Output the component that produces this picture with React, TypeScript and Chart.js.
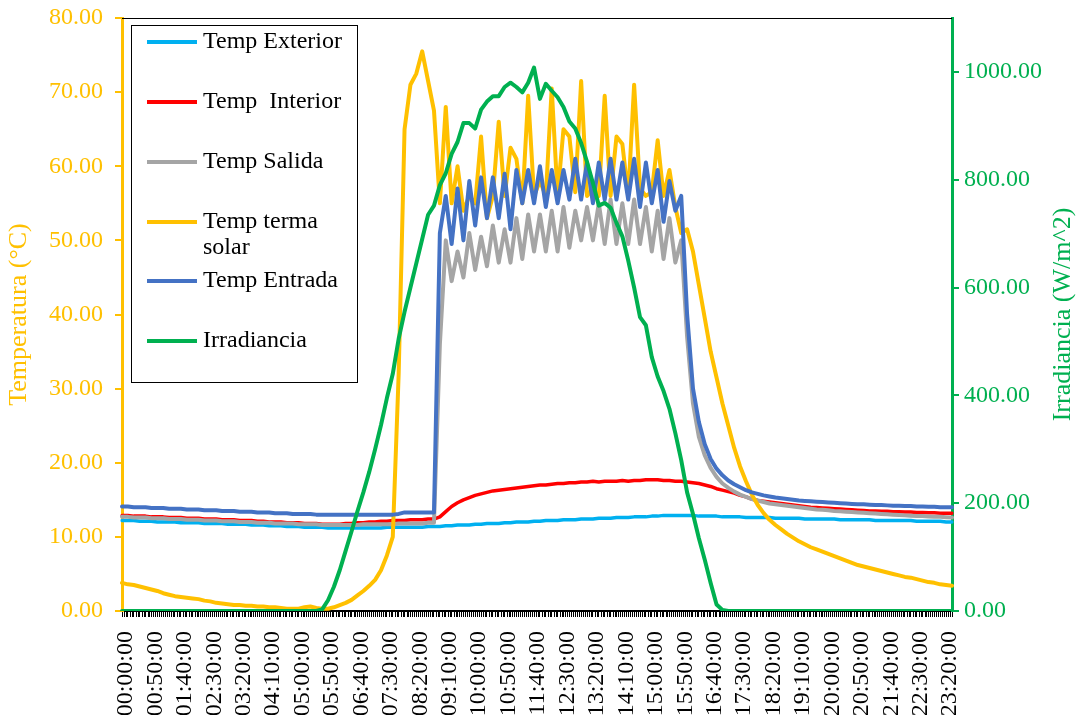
import React, { useEffect, useRef } from 'react';
import { Chart, registerables } from 'chart.js';

Chart.register(...registerables);

// 10-minute samples from 00:00:00 to 23:30:00
const POINTS = 142;
const pad2 = (n: number) => (n < 10 ? '0' + n : String(n));
const timeLabels: string[] = Array.from({ length: POINTS }, (_, i) => {
  const m = i * 10;
  return `${pad2(Math.floor(m / 60))}:${pad2(m % 60)}:00`;
});
const LABEL_EVERY = 5;

const tempExterior: number[] = [
  12.2, 12.2, 12.2, 12.1, 12.1, 12.1, 12.0, 12.0, 12.0, 12.0, 11.9, 11.9,
  11.9, 11.9, 11.8, 11.8, 11.8, 11.8, 11.7, 11.7, 11.7, 11.7, 11.6, 11.6,
  11.6, 11.5, 11.5, 11.5, 11.4, 11.4, 11.4, 11.3, 11.3, 11.3, 11.3, 11.2,
  11.2, 11.2, 11.2, 11.2, 11.2, 11.2, 11.2, 11.2, 11.2, 11.3, 11.3, 11.3,
  11.3, 11.3, 11.3, 11.3, 11.4, 11.4, 11.4, 11.5, 11.5, 11.6, 11.6, 11.6,
  11.7, 11.7, 11.8, 11.8, 11.8, 11.9, 11.9, 12.0, 12.0, 12.0, 12.1, 12.1,
  12.2, 12.2, 12.2, 12.3, 12.3, 12.3, 12.4, 12.4, 12.4, 12.5, 12.5, 12.5,
  12.6, 12.6, 12.6, 12.7, 12.7, 12.7, 12.8, 12.8, 12.9, 12.9, 12.9, 12.9,
  12.9, 12.9, 12.8, 12.8, 12.8, 12.8, 12.7, 12.7, 12.7, 12.7, 12.6, 12.6,
  12.6, 12.6, 12.6, 12.5, 12.5, 12.5, 12.5, 12.5, 12.4, 12.4, 12.4, 12.4,
  12.4, 12.4, 12.3, 12.3, 12.3, 12.3, 12.3, 12.3, 12.2, 12.2, 12.2, 12.2,
  12.2, 12.2, 12.2, 12.1, 12.1, 12.1, 12.1, 12.1, 12.0, 12.0,
];

const tempInterior: number[] = [
  12.9, 12.9, 12.8, 12.8, 12.8, 12.7, 12.7, 12.7, 12.6, 12.6, 12.6, 12.5,
  12.5, 12.5, 12.4, 12.4, 12.4, 12.3, 12.3, 12.3, 12.2, 12.2, 12.2, 12.1,
  12.1, 12.0, 12.0, 12.0, 11.9, 11.9, 11.9, 11.8, 11.8, 11.8, 11.7, 11.7,
  11.7, 11.7, 11.8, 11.8, 11.9, 11.9, 12.0, 12.0, 12.1, 12.1, 12.2, 12.2,
  12.2, 12.3, 12.3, 12.3, 12.4, 12.4, 12.7, 13.4, 14.1, 14.6, 15.0, 15.3,
  15.6, 15.8, 16.0, 16.2, 16.3, 16.4, 16.5, 16.6, 16.7, 16.8, 16.9, 17.0,
  17.0, 17.1, 17.2, 17.2, 17.3, 17.3, 17.4, 17.4, 17.5, 17.4, 17.5, 17.5,
  17.5, 17.6, 17.5, 17.6, 17.6, 17.7, 17.7, 17.7, 17.6, 17.6, 17.5, 17.5,
  17.4, 17.3, 17.2, 17.0, 16.8, 16.5, 16.3, 16.1, 15.9, 15.6, 15.4, 15.1,
  14.9, 14.8, 14.7, 14.6, 14.5, 14.4, 14.3, 14.2, 14.1, 14.0, 13.95, 13.9,
  13.85, 13.8, 13.75, 13.7, 13.65, 13.6, 13.55, 13.5, 13.5, 13.45, 13.45, 13.4,
  13.4, 13.35, 13.35, 13.3, 13.3, 13.25, 13.25, 13.2, 13.2, 13.2,
];

const tempSalida: number[] = [
  12.7, 12.7, 12.6, 12.6, 12.6, 12.5, 12.5, 12.5, 12.4, 12.4, 12.4, 12.3,
  12.3, 12.3, 12.2, 12.2, 12.2, 12.1, 12.1, 12.1, 12.0, 12.0, 12.0, 11.9,
  11.9, 11.9, 11.8, 11.8, 11.8, 11.8, 11.7, 11.7, 11.7, 11.7, 11.6, 11.6,
  11.6, 11.6, 11.6, 11.6, 11.6, 11.7, 11.7, 11.7, 11.7, 11.7, 11.7, 11.8,
  11.8, 11.8, 11.8, 11.8, 11.9, 11.9, 36.0, 50.0, 44.5, 48.5, 45.0, 51.0,
  46.0, 50.5, 46.5, 52.0, 47.0, 51.5, 47.0, 53.0, 47.5, 53.5, 48.5, 53.5,
  48.5, 54.0, 48.5, 54.5, 49.0, 54.0, 50.0, 54.5, 50.0, 55.0, 49.5, 55.5,
  49.5, 55.0, 49.5, 55.5, 49.5, 54.5, 48.5, 54.0, 47.5, 53.0, 47.0, 50.0,
  37.0, 28.0, 23.5, 21.0, 19.3, 18.1, 17.2, 16.6, 16.1, 15.7, 15.4, 15.1,
  14.9, 14.7, 14.5, 14.4, 14.3, 14.2, 14.1, 14.0, 13.9, 13.8, 13.7, 13.65,
  13.6, 13.5, 13.45, 13.4, 13.35, 13.3, 13.25, 13.2, 13.15, 13.1, 13.05, 13.0,
  12.95, 12.9, 12.85, 12.8, 12.8, 12.75, 12.7, 12.7, 12.65, 12.6,
];

const tempTermaSolar: number[] = [
  3.8, 3.6, 3.5, 3.3, 3.1, 2.9, 2.7, 2.4, 2.2, 2.0, 1.9, 1.8,
  1.7, 1.6, 1.4, 1.3, 1.1, 1.0, 0.9, 0.8, 0.8, 0.7, 0.7, 0.6,
  0.6, 0.5, 0.5, 0.4, 0.3, 0.3, 0.3, 0.5, 0.6, 0.4, 0.3, 0.3,
  0.5, 0.8, 1.1, 1.5, 2.1, 2.7, 3.4, 4.2, 5.5, 7.5, 10.0, 32.0,
  65.0, 71.0, 72.5, 75.5, 71.5, 67.5, 55.0, 68.0, 55.0, 60.0, 54.0, 56.0,
  55.0, 64.0, 53.0, 56.0, 66.0, 56.0, 62.5, 61.0, 55.0, 69.5, 56.0, 58.0,
  56.0, 70.5, 56.0, 65.0, 64.0, 56.5, 71.5, 56.0, 57.0, 56.0, 69.5, 56.0,
  64.0, 63.0, 56.0, 71.0, 57.0, 56.0, 56.5, 63.5, 56.0, 59.5, 54.5, 51.0,
  51.5, 48.5, 44.0, 39.5, 35.0, 31.5, 28.0, 25.0, 22.0, 19.5, 17.5, 15.7,
  14.3, 13.2, 12.3, 11.6, 11.0, 10.4, 9.9, 9.4, 9.0, 8.6, 8.3, 8.0,
  7.7, 7.4, 7.1, 6.8, 6.5, 6.2, 6.0, 5.8, 5.6, 5.4, 5.2, 5.0,
  4.8, 4.6, 4.5, 4.3, 4.1, 3.9, 3.8, 3.6, 3.5, 3.4,
];

const tempEntrada: number[] = [
  14.1, 14.1, 14.0, 14.0, 14.0, 13.9, 13.9, 13.9, 13.8, 13.8, 13.8, 13.7,
  13.7, 13.7, 13.6, 13.6, 13.6, 13.5, 13.5, 13.5, 13.4, 13.4, 13.4, 13.3,
  13.3, 13.3, 13.2, 13.2, 13.2, 13.1, 13.1, 13.1, 13.1, 13.0, 13.0, 13.0,
  13.0, 13.0, 13.0, 13.0, 13.0, 13.0, 13.0, 13.0, 13.0, 13.0, 13.0, 13.1,
  13.3, 13.3, 13.3, 13.3, 13.3, 13.3, 51.0, 56.0, 49.5, 57.0, 50.0, 58.0,
  52.0, 58.5, 53.0, 58.5, 53.0, 59.0, 51.5, 59.5, 55.0, 59.5, 55.0, 60.0,
  54.5, 59.5, 55.0, 59.5, 55.5, 61.0, 55.5, 60.5, 55.0, 60.5, 55.5, 61.0,
  55.5, 60.5, 55.5, 61.0, 54.5, 60.5, 55.0, 59.5, 52.5, 58.0, 54.0, 56.0,
  40.0, 30.0, 25.5, 22.5, 20.5, 19.2, 18.3, 17.6, 17.1, 16.7, 16.3, 16.0,
  15.8, 15.6, 15.45, 15.3, 15.2, 15.1, 15.0, 14.9, 14.85, 14.8, 14.75, 14.7,
  14.65, 14.6, 14.55, 14.5, 14.45, 14.4, 14.4, 14.35, 14.3, 14.3, 14.25, 14.2,
  14.2, 14.15, 14.15, 14.1, 14.1, 14.05, 14.05, 14.0, 14.0, 14.0,
];

const irradiancia: number[] = [
  0, 0, 0, 0, 0, 0, 0, 0, 0, 0, 0, 0,
  0, 0, 0, 0, 0, 0, 0, 0, 0, 0, 0, 0,
  0, 0, 0, 0, 0, 0, 0, 0, 0, 0, 3, 20,
  45, 76, 112, 148, 185, 220, 258, 300, 345, 395, 440, 505,
  555, 600, 645, 690, 735, 752, 790, 812, 848, 870, 905, 905,
  895, 930, 945, 955, 955, 972, 980, 972, 962, 980, 1008, 950,
  978, 965, 953, 935, 908, 895, 868, 833, 794, 752, 757, 748,
  720, 695, 650, 600, 545, 530, 471, 435, 408, 375, 330, 280,
  220, 180, 135, 95, 52, 12, 2, 0, 0, 0, 0, 0,
  0, 0, 0, 0, 0, 0, 0, 0, 0, 0, 0, 0,
  0, 0, 0, 0, 0, 0, 0, 0, 0, 0, 0, 0,
  0, 0, 0, 0, 0, 0, 0, 0, 0, 0,
];

const seriesNames: string[] = [
  'Temp Exterior',
  'Temp  Interior',
  'Temp Salida',
  'Temp terma solar',
  'Temp Entrada',
  'Irradiancia',
];
const legendLines: string[][] = [
  ['Temp Exterior'],
  ['Temp  Interior'],
  ['Temp Salida'],
  ['Temp terma', 'solar'],
  ['Temp Entrada'],
  ['Irradiancia'],
];
const seriesColors: string[] = ['#00B0F0', '#FF0000', '#A5A5A5', '#FFC000', '#4472C4', '#00B050'];

const leftTicks: number[] = [0, 10, 20, 30, 40, 50, 60, 70, 80];
const rightTicks: number[] = [0, 200, 400, 600, 800, 1000];

const FONT = "'Liberation Serif', 'Times New Roman', serif";
const ORANGE = '#FFC000';
const GREEN = '#00B050';

const decorPlugin = {
  id: 'decor',
  afterDraw(chart: any) {
    const ctx: CanvasRenderingContext2D = chart.ctx;
    const area = chart.chartArea;
    const xs = chart.scales.x;
    ctx.save();

    // top border of plot area
    ctx.strokeStyle = '#000';
    ctx.lineWidth = 1;
    ctx.beginPath();
    ctx.moveTo(area.left, area.top + 0.5);
    ctx.lineTo(area.right, area.top + 0.5);
    ctx.stroke();

    // dense minor ticks along the category axis
    ctx.beginPath();
    for (let i = 0; i < POINTS - 1; i++) {
      const a = xs.getPixelForValue(i);
      const b = xs.getPixelForValue(i + 1);
      for (let k = 1; k < 3; k++) {
        const x = Math.round(a + ((b - a) * k) / 3) + 0.5;
        ctx.moveTo(x, area.bottom);
        ctx.lineTo(x, area.bottom + 6);
      }
    }
    ctx.stroke();

    // right axis title, reading bottom-to-top
    ctx.fillStyle = GREEN;
    ctx.font = `26px ${FONT}`;
    ctx.textAlign = 'center';
    ctx.textBaseline = 'middle';
    ctx.translate(1063, (area.top + area.bottom) / 2);
    ctx.rotate(-Math.PI / 2);
    ctx.fillText('Irradiancia (W/m^2)', 0, 0);
    ctx.setTransform(1, 0, 0, 1, 0, 0);

    // legend box
    const bx = 131, by = 25, bw = 226, bh = 357;
    ctx.fillStyle = '#fff';
    ctx.fillRect(bx, by, bw, bh);
    ctx.strokeStyle = '#000';
    ctx.lineWidth = 1;
    ctx.strokeRect(bx + 0.5, by + 0.5, bw, bh);
    const rowY = [42, 102, 162, 222, 281, 341];
    ctx.font = `24px ${FONT}`;
    ctx.textAlign = 'left';
    ctx.textBaseline = 'middle';
    legendLines.forEach((lines, i) => {
      const y = rowY[i];
      ctx.strokeStyle = seriesColors[i];
      ctx.lineWidth = 4;
      ctx.beginPath();
      ctx.moveTo(147, y);
      ctx.lineTo(197, y);
      ctx.stroke();
      ctx.fillStyle = '#000';
      lines.forEach((t, j) => ctx.fillText(t, 203, y + j * 26));
    });

    ctx.restore();
  },
};

const zeroPad = (s: any) => {
  s.paddingTop = 0;
  s.paddingBottom = 0;
};

export default function App() {
  const ref = useRef<HTMLCanvasElement | null>(null);

  useEffect(() => {
    if (!ref.current) return;
    const tempSeries = [tempExterior, tempInterior, tempSalida, tempTermaSolar, tempEntrada];
    const datasets: any[] = tempSeries.map((d, i) => ({
      label: seriesNames[i],
      data: d,
      borderColor: seriesColors[i],
      backgroundColor: seriesColors[i],
      borderWidth: i < 2 ? 3.5 : 4,
      pointRadius: 0,
      tension: 0,
      borderJoinStyle: 'round',
      borderCapStyle: 'round',
      yAxisID: 'y',
      order: 6 - i,
    }));
    datasets.push({
      label: seriesNames[5],
      data: irradiancia,
      borderColor: seriesColors[5],
      backgroundColor: seriesColors[5],
      borderWidth: 4,
      pointRadius: 0,
      tension: 0,
      borderJoinStyle: 'round',
      borderCapStyle: 'round',
      yAxisID: 'y1',
      order: 0,
    });

    const chart = new Chart(ref.current, {
      type: 'line',
      data: { labels: timeLabels, datasets },
      plugins: [decorPlugin],
      options: {
        responsive: false,
        animation: false,
        events: [],
        layout: { padding: { top: 18, left: 0, right: 0, bottom: 0 } },
        plugins: { legend: { display: false }, tooltip: { enabled: false } },
        scales: {
          x: {
            type: 'category',
            offset: false,
            grid: { display: true, drawOnChartArea: false, drawTicks: true, tickLength: 6, color: '#000', lineWidth: 1 },
            border: { display: true, color: '#000', width: 2 },
            ticks: {
              autoSkip: false,
              minRotation: 90,
              maxRotation: 90,
              padding: 14,
              labelOffset: 4,
              color: '#000',
              font: { family: FONT, size: 24 },
              callback: (_v: any, i: number) => (i % LABEL_EVERY === 0 ? timeLabels[i] : ''),
            },
            afterFit: (s: any) => {
              s.height = 104;
              s.paddingLeft = 0;
              s.paddingRight = 0;
            },
          },
          y: {
            position: 'left',
            min: 0,
            max: 80,
            afterBuildTicks: (s: any) => { s.ticks = leftTicks.map((v) => ({ value: v })); },
            grid: { display: true, drawOnChartArea: false, drawTicks: true, tickLength: 7, color: ORANGE, lineWidth: 2 },
            border: { display: true, color: ORANGE, width: 3 },
            ticks: {
              padding: 12,
              color: ORANGE,
              font: { family: FONT, size: 24 },
              callback: (v: any) => Number(v).toFixed(2),
            },
            title: {
              display: true,
              text: 'Temperatura (°C)',
              color: ORANGE,
              font: { family: FONT, size: 26 },
              padding: { top: 4, bottom: 0 },
            },
            afterFit: (s: any) => { s.width = 122; zeroPad(s); },
          },
          y1: {
            position: 'right',
            min: 0,
            max: 1100,
            afterBuildTicks: (s: any) => { s.ticks = rightTicks.map((v) => ({ value: v })); },
            grid: { display: true, drawOnChartArea: false, drawTicks: true, tickLength: 7, color: GREEN, lineWidth: 2 },
            border: { display: true, color: GREEN, width: 3 },
            ticks: {
              padding: 5,
              color: GREEN,
              font: { family: FONT, size: 24 },
              callback: (v: any) => Number(v).toFixed(2),
            },
            afterFit: (s: any) => { s.width = 126; zeroPad(s); },
          },
        },
      } as any,
    });
    return () => chart.destroy();
  }, []);

  return (
    <div style={{ position: 'fixed', left: 0, top: 0, width: 1078, height: 715, background: '#fff' }}>
      <canvas ref={ref} width={1078} height={715} style={{ display: 'block' }} />
    </div>
  );
}
